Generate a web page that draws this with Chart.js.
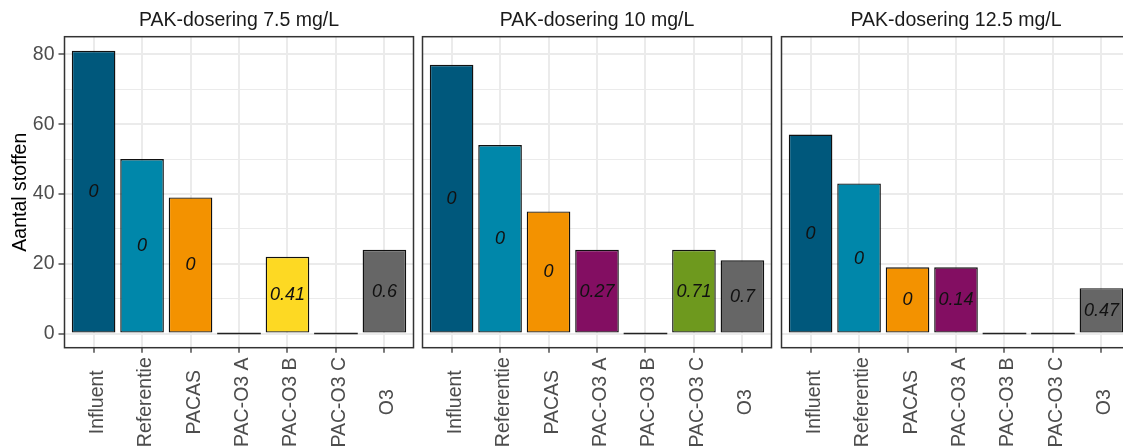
<!DOCTYPE html>
<html>
<head>
<meta charset="utf-8">
<script src="https://cdn.jsdelivr.net/npm/chart.js@4/dist/chart.umd.min.js"></script>
<style>
  html, body { margin: 0; padding: 0; background: #ffffff; }
  #wrap { position: relative; width: 1123px; height: 448px; overflow: hidden; background: #ffffff; }
  canvas { position: absolute; top: 0; }
</style>
</head>
<body>
<div id="wrap">
  <canvas id="c1" width="420" height="448" style="left:0px"></canvas>
  <canvas id="c2" width="362" height="448" style="left:416px"></canvas>
  <canvas id="c3" width="362" height="448" style="left:774.5px"></canvas>
</div>
<script>
// ---- data ----
const categories = ['Influent', 'Referentie', 'PACAS', 'PAC-O3 A', 'PAC-O3 B', 'PAC-O3 C', 'O3'];
const barColors = ['#00587C', '#0087AA', '#F39200', '#830E62', '#FDD923', '#6E991E', '#666666'];
const panelTitles = ['PAK-dosering 7.5 mg/L', 'PAK-dosering 10 mg/L', 'PAK-dosering 12.5 mg/L'];
const values75 = [81, 50, 39, 0, 22, 0, 24];
const values10 = [77, 54, 35, 24, 0, 24, 21];
const values125 = [57, 43, 19, 19, 0, 0, 13];
const labels75 = ['0', '0', '0', null, '0.41', null, '0.6'];
const labels10 = ['0', '0', '0', '0.27', null, '0.71', '0.7'];
const labels125 = ['0', '0', '0', '0.14', null, null, '0.47'];
const yMajorTicks = [0, 20, 40, 60, 80];
const yMinorTicks = [10, 30, 50, 70];
const yAxisTitle = 'Aantal stoffen';

const FONT = '"Liberation Sans", Arial, sans-serif';
Chart.defaults.font.family = FONT;

const panelBorder = {
  id: 'panelBorder',
  afterDatasetsDraw(chart) {
    const {ctx, chartArea: a} = chart;
    ctx.save();
    ctx.strokeStyle = '#333333';
    ctx.lineWidth = 1.5;
    ctx.strokeRect(a.left, a.top, a.right - a.left, a.bottom - a.top);
    ctx.restore();
  }
};

const barExtras = {
  id: 'barExtras',
  afterDatasetsDraw(chart, args, opts) {
    const {ctx} = chart;
    const meta = chart.getDatasetMeta(0);
    const yScale = chart.scales.y;
    const vals = chart.data.datasets[0].data;
    ctx.save();
    meta.data.forEach((bar, i) => {
      const v = vals[i].y;
      const p = bar.getProps(['x', 'width', 'base'], true);
      if (v === 0) {
        ctx.strokeStyle = '#222222';
        ctx.lineWidth = 1.4;
        ctx.beginPath();
        ctx.moveTo(p.x - p.width / 2, p.base);
        ctx.lineTo(p.x + p.width / 2, p.base);
        ctx.stroke();
      }
      const lab = opts.labels[i];
      if (lab !== null && lab !== undefined) {
        ctx.fillStyle = '#111111';
        ctx.font = 'italic 18px ' + FONT;
        ctx.textAlign = 'center';
        ctx.textBaseline = 'middle';
        ctx.fillText(lab, p.x, yScale.getPixelForValue(v / 2));
      }
    });
    ctx.restore();
  }
};

const xLabels = {
  id: 'xLabels',
  afterDraw(chart) {
    const {ctx, chartArea: a} = chart;
    const xs = chart.scales.x;
    ctx.save();
    ctx.fillStyle = '#4D4D4D';
    ctx.font = '19.5px ' + FONT;
    ctx.textAlign = 'center';
    ctx.textBaseline = 'alphabetic';
    categories.forEach((c, i) => {
      const x = xs.getPixelForValue(i);
      ctx.save();
      ctx.translate(x, a.bottom + 54.5);
      ctx.rotate(-Math.PI / 2);
      ctx.fillText(c, 0, 9);
      ctx.restore();
    });
    ctx.restore();
  }
};

function makePanel(id, title, values, labels, first) {
  const data = values.map((v, i) => ({x: i, y: v}));
  new Chart(document.getElementById(id), {
    type: 'bar',
    data: {
      datasets: [{
        data: data,
        backgroundColor: barColors,
        borderColor: '#111111',
        borderWidth: 1.4,
        borderSkipped: false,
        categoryPercentage: 1.0,
        barPercentage: 0.9
      }]
    },
    plugins: [panelBorder, barExtras, xLabels],
    options: {
      responsive: false,
      animation: false,
      layout: { padding: { left: first ? 0 : 6.5, right: 6.5, top: 0, bottom: 0 } },
      plugins: {
        legend: { display: false },
        tooltip: { enabled: false },
        title: {
          display: true,
          text: title,
          fullSize: false,
          color: '#1A1A1A',
          font: { size: 19.5, weight: 'normal', family: FONT },
          padding: { top: 9, bottom: 4.3 }
        },
        barExtras: { labels: labels }
      },
      scales: {
        x: {
          type: 'linear',
          min: -0.6,
          max: 6.6,
          offset: false,
          afterBuildTicks(scale) { scale.ticks = categories.map((c, i) => ({value: i})); },
          afterFit(scale) { scale.height = 100.3; },
          ticks: { display: false, autoSkip: false },
          border: { display: false },
          grid: {
            offset: false,
            color: '#EBEBEB',
            lineWidth: 2,
            drawTicks: true,
            tickLength: 5,
            tickColor: '#333333',
            tickWidth: 1.3
          }
        },
        y: {
          type: 'linear',
          min: -4.05,
          max: 85.05,
          afterBuildTicks(scale) {
            scale.ticks = yMajorTicks.concat(yMinorTicks).sort((a, b) => a - b).map(v => ({value: v}));
          },
          afterFit(scale) { scale.width = first ? 64.5 : 0; },
          border: { display: false },
          title: {
            display: first,
            text: yAxisTitle,
            color: '#000000',
            font: { size: 19.5, family: FONT },
            padding: { top: 9, bottom: 0 }
          },
          ticks: {
            display: first,
            autoSkip: false,
            color: '#4D4D4D',
            font: { size: 19.5, family: FONT },
            padding: 4,
            callback: (v) => yMajorTicks.includes(v) ? String(v) : ''
          },
          grid: {
            color: '#EBEBEB',
            lineWidth: (ctx) => (ctx.tick && yMajorTicks.includes(ctx.tick.value)) ? 2 : 1,
            drawTicks: first,
            tickLength: 6,
            tickColor: (ctx) => (ctx.tick && yMajorTicks.includes(ctx.tick.value)) ? '#333333' : 'rgba(0,0,0,0)',
            tickWidth: 1.3
          }
        }
      }
    }
  });
}

makePanel('c1', panelTitles[0], values75, labels75, true);
makePanel('c2', panelTitles[1], values10, labels10, false);
makePanel('c3', panelTitles[2], values125, labels125, false);
</script>
</body>
</html>
